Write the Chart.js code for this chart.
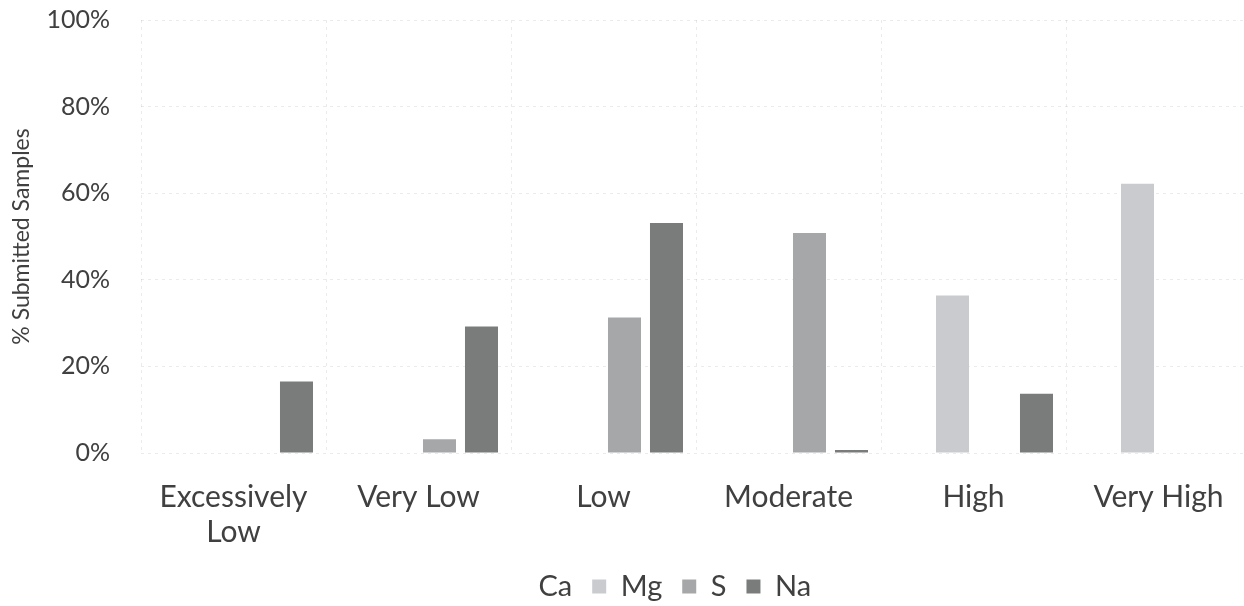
<!DOCTYPE html>
<html>
<head>
<meta charset="utf-8">
<script src="https://cdn.jsdelivr.net/npm/chart.js@4.4.1/dist/chart.umd.min.js"></script>
<style>
  html, body { margin: 0; padding: 0; background: #ffffff; overflow: hidden; }
  #wrap { position: relative; width: 1262px; height: 606px; }
</style>
</head>
<body>
<div id="wrap"><canvas id="chart"></canvas></div>
<script>
// Sufficiency categories on the x axis
const categories = [['Excessively', 'Low'], 'Very Low', 'Low', 'Moderate', 'High', 'Very High'];

// Share of submitted samples (%) per element and category
const caValues = [0, 0, 0, 0, 0, 0];
const mgValues = [0, 0, 0, 0, 36.4, 62.2];
const sValues  = [0, 3.2, 31.3, 50.8, 0, 0];
const naValues = [16.5, 29.2, 53.1, 0.7, 13.7, 0];

// Y axis tick values
const yTicks = [0, 20, 40, 60, 80, 100];

const textColor = '#404040';
const gridColor = 'rgba(0,0,0,0.08)';
const fontFamily = 'Lato, "Open Sans", sans-serif';

// Nudges the bottom legend so it sits under the plot
const legendOffset = {
  id: 'legendOffset',
  afterLayout(chart, args, opts) {
    const lg = chart.legend;
    if (lg) {
      lg.left += opts.dx; lg.right += opts.dx;
      lg.top += opts.dy; lg.bottom += opts.dy;
    }
  }
};

new Chart(document.getElementById('chart'), {
  type: 'bar',
  data: {
    labels: categories,
    datasets: [
      { label: 'Ca', data: caValues, backgroundColor: '#ffffff', borderWidth: 0 },
      { label: 'Mg', data: mgValues, backgroundColor: '#c9cbcf', borderWidth: 0 },
      { label: 'S',  data: sValues,  backgroundColor: '#a6a7a9', borderWidth: 0 },
      { label: 'Na', data: naValues, backgroundColor: '#7a7c7c', borderWidth: 0 }
    ]
  },
  options: {
    responsive: true,
    maintainAspectRatio: false,
    animation: false,
    datasets: { bar: { categoryPercentage: 0.908, barPercentage: 0.786 } },
    layout: { padding: { left: 8, right: 11, top: 0, bottom: 0 } },
    plugins: {
      legend: {
        position: 'bottom',
        labels: {
          font: { family: fontFamily, size: 29 },
          color: textColor,
          boxWidth: 14,
          boxHeight: 14,
          padding: 20
        }
      },
      tooltip: { enabled: false },
      legendOffset: { dx: 31, dy: 5 }
    },
    scales: {
      x: {
        grid: { color: gridColor, drawTicks: false, offset: true },
        border: { display: false, dash: [3, 4] },
        ticks: {
          font: { family: fontFamily, size: 30, lineHeight: 1.17 },
          color: textColor,
          padding: 27,
          maxRotation: 0,
          autoSkip: false
        },
        afterFit(scale) {
          scale.height = 94;
          scale.paddingLeft = 0;
          scale.paddingRight = 0;
        }
      },
      y: {
        min: 0,
        max: 100,
        afterBuildTicks(scale) { scale.ticks = yTicks.map(v => ({ value: v })); },
        grid: { color: gridColor, drawTicks: false },
        border: { display: false, dash: [3, 4] },
        ticks: {
          font: { family: fontFamily, size: 25 },
          color: textColor,
          padding: 31,
          callback: v => v + '%'
        },
        title: {
          display: true,
          text: '% Submitted Samples',
          font: { family: fontFamily, size: 23 },
          color: textColor,
          padding: { top: 0, bottom: 14 }
        },
        afterFit(scale) {
          scale.width = 133;
          scale.paddingTop = 20;
          scale.paddingBottom = 0;
        }
      }
    }
  },
  plugins: [legendOffset]
});
</script>
</body>
</html>
